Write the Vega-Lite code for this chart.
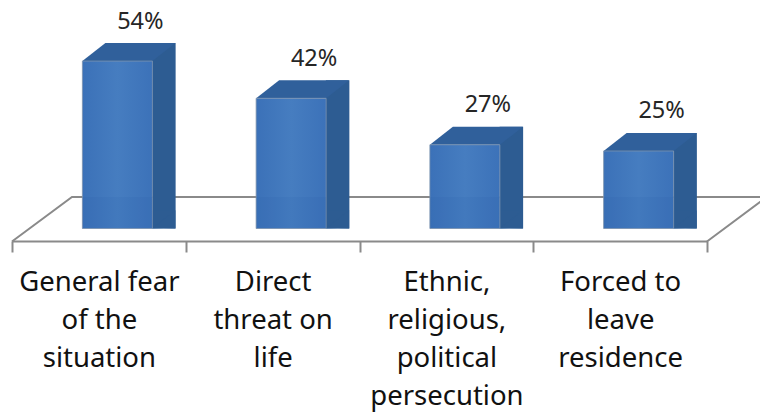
{
  "$schema": "https://vega.github.io/schema/vega-lite/v6.json",
  "autosize": "none",
  "padding": {"left": 12, "top": 0, "right": 53, "bottom": 172},
  "width": 695,
  "height": 241,
  "background": "white",
  "view": {"stroke": null},
  "data": {"values": [
    {"reason": "General fear of the situation", "pct": 54, "label": "54%"},
    {"reason": "Direct threat on life", "pct": 42, "label": "42%"},
    {"reason": "Ethnic, religious, political persecution", "pct": 27, "label": "27%"},
    {"reason": "Forced to leave residence", "pct": 25, "label": "25%"}
  ]},
  "encoding": {
    "x": {
      "field": "reason", "type": "nominal", "sort": null, "title": null,
      "scale": {"paddingInner": 0, "paddingOuter": 0},
      "axis": {
        "labelAngle": 0, "labelFont": "Noto Sans", "labelFontSize": 27.5, "labelColor": "#111111",
        "labelLineHeight": 38, "labelPadding": 16, "labelLimit": 0, "labelOverlap": false, "labelBound": false,
        "tickBand": "extent", "tickSize": 11, "tickWidth": 2, "tickColor": "#8a8a8a",
        "domainColor": "#8a8a8a", "domainWidth": 2, "grid": false,
        "labelExpr": "datum.value == 'General fear of the situation' ? ['General fear','of the','situation'] : datum.value == 'Direct threat on life' ? ['Direct','threat on','life'] : datum.value == 'Forced to leave residence' ? ['Forced to','leave','residence'] : datum.value == 'Ethnic, religious, political persecution' ? ['Ethnic,','religious,','political','persecution'] : ''"
      }
    },
    "y": {
      "field": "pct", "type": "quantitative", "axis": null, "title": null,
      "scale": {"domain": [0, 73.7], "range": [228.5, 0], "nice": false}
    }
  },
  "layer": [
    {
      "transform": [{"filter": "datum.pct == 54"}],
      "mark": {"type": "point", "shape": "M-86.9,13L-26.9,-31.5L668,-31.5L608.1,13", "size": 4, "filled": false, "stroke": "#8a8a8a", "strokeWidth": 2, "opacity": 1},
      "encoding": {"y": {"datum": 0}}
    },
    {
      "mark": {"type": "bar", "width": 23.5, "xOffset": 65, "yOffset": -18, "fill": "#2d5c92"},
      "encoding": {"y2": {"datum": 0}}
    },
    {
      "mark": {"type": "point", "shape": "M35,0L58,-18L35,-18L35,0ZM35,-0.5L58,-18.5L58,0Z", "size": 4, "filled": true, "fill": "#2d5c92", "opacity": 1, "xOffset": 18.5},
      "encoding": {"y": {"datum": 0}}
    },
    {
      "mark": {"type": "point", "shape": "M-35,0L35,0L58,-18L-12,-18Z", "size": 4, "filled": true, "fill": "#30609b", "opacity": 1, "xOffset": 18.5}
    },
    {
      "mark": {"type": "bar", "width": 70, "xOffset": 18.5, "stroke": "#7d93ad", "strokeWidth": 0.8,
        "fill": {"gradient": "linear", "x1": 0, "x2": 1, "y1": 0, "y2": 0, "stops": [
          {"offset": 0, "color": "#3b71b8"}, {"offset": 0.5, "color": "#467dc0"}, {"offset": 1, "color": "#3c72b9"}
        ]}},
      "encoding": {"y2": {"datum": 0}}
    },
    {
      "mark": {"type": "bar", "width": 70, "xOffset": 18.5, "fill": "#1f4f9a", "opacity": 0.08},
      "encoding": {"y": {"datum": 10.16}, "y2": {"datum": 0}}
    },
    {
      "mark": {"type": "text", "font": "Noto Sans", "fontSize": 23.5, "color": "#262626", "dx": 41.5, "dy": -32.5, "baseline": "alphabetic", "align": "center"},
      "encoding": {"text": {"field": "label", "type": "nominal"}}
    }
  ]
}
